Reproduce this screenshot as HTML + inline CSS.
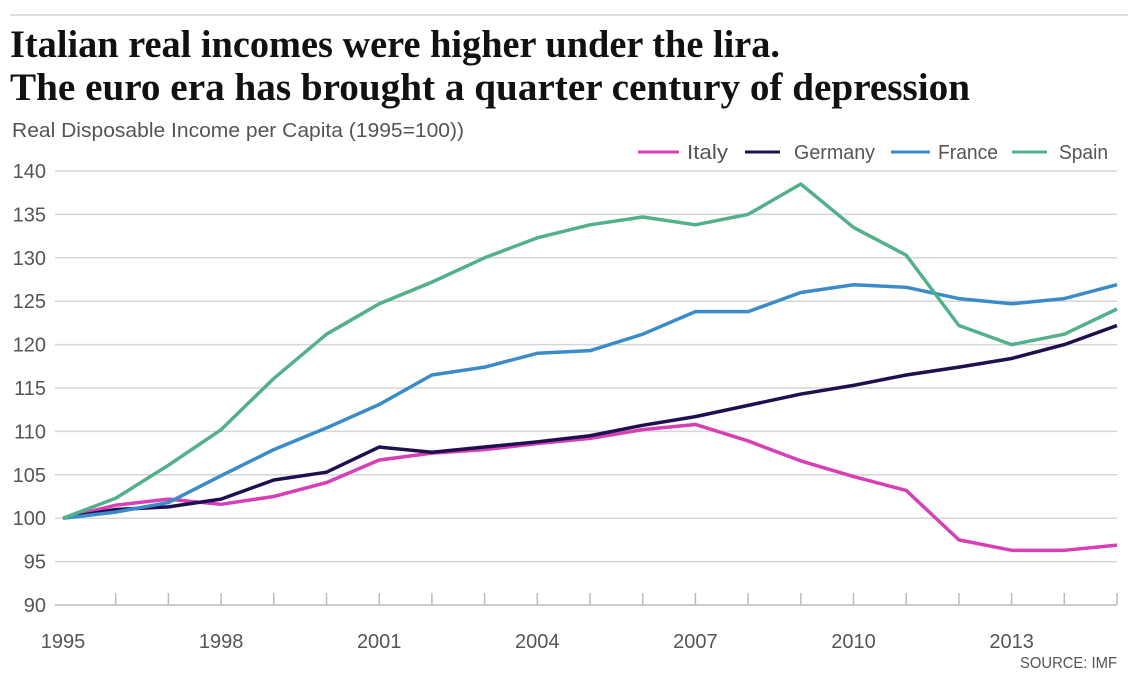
<!DOCTYPE html>
<html><head><meta charset="utf-8"><style>
body{margin:0;background:#fff;}
svg{display:block;font-family:"Liberation Sans",sans-serif;}
</style></head><body>
<svg id="chart" width="1138" height="694">
<line x1="10" y1="15" x2="1128" y2="15" stroke="#ddd" stroke-width="2"/>
<text x="10" y="57" font-family="Liberation Serif,serif" font-weight="bold" font-size="39" fill="#111" textLength="770" lengthAdjust="spacingAndGlyphs">Italian real incomes were higher under the lira.</text>
<text x="10" y="100" font-family="Liberation Serif,serif" font-weight="bold" font-size="39" fill="#111" textLength="960" lengthAdjust="spacingAndGlyphs">The euro era has brought a quarter century of depression</text>
<text x="12" y="137" font-size="20" fill="#555" textLength="452" lengthAdjust="spacingAndGlyphs">Real Disposable Income per Capita (1995=100))</text>
<g id="grid"></g><g id="lines"></g><g id="legend"></g>
<text x="1117" y="668" font-size="16" fill="#555" text-anchor="end" textLength="97" lengthAdjust="spacingAndGlyphs">SOURCE: IMF</text>
</svg>
<script>
const years=[1995,1996,1997,1998,1999,2000,2001,2002,2003,2004,2005,2006,2007,2008,2009,2010,2011,2012,2013,2014,2015];
const italy=[100,101.5,102.2,101.6,102.5,104.1,106.7,107.5,107.9,108.6,109.2,110.2,110.8,108.9,106.6,104.8,103.2,97.5,96.3,96.3,96.9];
const germany=[100,101.0,101.3,102.2,104.4,105.3,108.2,107.6,108.2,108.8,109.5,110.7,111.7,113.0,114.3,115.3,116.5,117.4,118.4,120.0,122.2];
const france=[100,100.7,101.8,104.9,107.9,110.4,113.1,116.5,117.4,119.0,119.3,121.2,123.8,123.8,126.0,126.9,126.6,125.3,124.7,125.3,126.9];
const spain=[100,102.3,106.1,110.2,116.1,121.2,124.7,127.2,130.0,132.3,133.8,134.7,133.8,135.0,138.5,133.5,130.3,122.2,120.0,121.2,124.1];
const yTicks=[90,95,100,105,110,115,120,125,130,135,140];
const xLabels=[1995,1998,2001,2004,2007,2010,2013];
const seriesNames=["Italy","Germany","France","Spain"];
const NS="http://www.w3.org/2000/svg";
const x=y=>63+(y-1995)*52.7;
const yS=v=>605-(v-90)*8.68;
function mk(t,a,p){const e=document.createElementNS(NS,t);for(const k in a)e.setAttribute(k,a[k]);p.appendChild(e);return e;}
const grid=document.getElementById('grid');
yTicks.forEach(v=>{
 const l=mk('line',{x1:55,x2:1117,y1:yS(v),y2:yS(v),stroke:v===90?'#bbb':'#d6d6d6','stroke-width':1.5},grid);
 
 
 const t=mk('text',{x:46,y:yS(v)+7,'font-size':20,fill:'#555','text-anchor':'end'},grid);
 t.textContent=v;
 
 
});
years.forEach(yr=>{
 if(yr===1995)return;
 const l=mk('line',{x1:x(yr),x2:x(yr),y1:yS(90)-12,y2:yS(90),stroke:'#bbb','stroke-width':1.5},grid);
 
 
});
xLabels.forEach(yr=>{
 const t=mk('text',{x:x(yr),y:648,'font-size':20,fill:'#555','text-anchor':'middle'},grid);
 t.textContent=yr;
 
 
});
const data=[italy,germany,france,spain];
const colors=['#d63fb5','#1f0f4f','#3a8cc9','#52b08a'];
const lines=document.getElementById('lines');
data.forEach((s,i)=>{
 const p=mk('polyline',{points:s.map((v,j)=>x(years[j])+','+yS(v)).join(' '),fill:'none',stroke:colors[i],'stroke-width':3.5,'stroke-linejoin':'round'},lines);
 
 
});
const lg=document.getElementById('legend');
const lx=[638,745,891,1012],lw=[41,35,39,35],tx=[687,794,938,1059],tw=[41,81,60,49];
seriesNames.forEach((n,i)=>{
 const g=mk('g',{},lg);
 
 
 mk('line',{x1:lx[i],x2:lx[i]+lw[i],y1:152,y2:152,stroke:colors[i],'stroke-width':3},g);
 const t=mk('text',{x:tx[i],y:159,'font-size':20,fill:'#555',textLength:tw[i],lengthAdjust:'spacingAndGlyphs'},g);
 t.textContent=n;
});
</script>
</body></html>
